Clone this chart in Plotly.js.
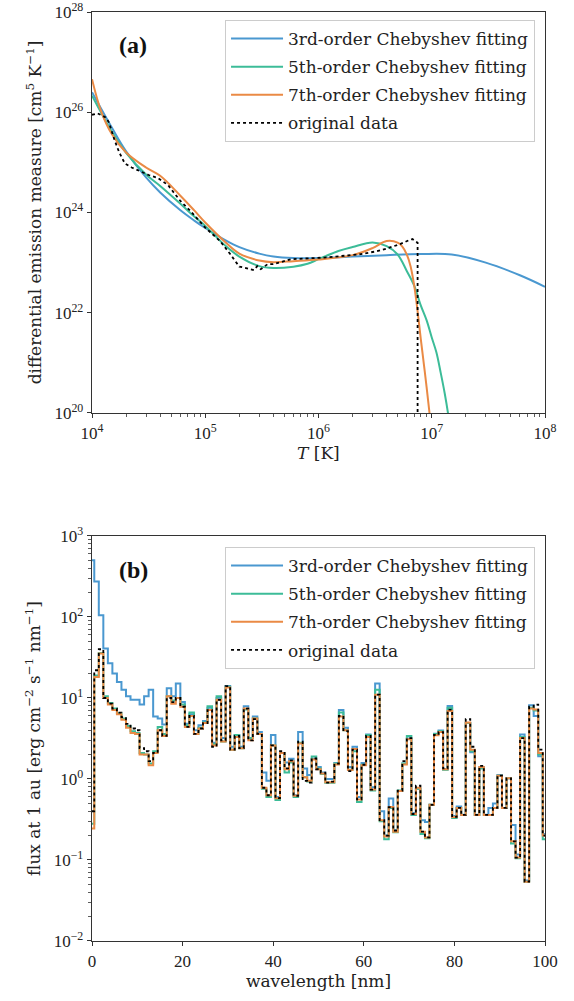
<!DOCTYPE html>
<html>
<head>
<meta charset="utf-8">
<script src="https://cdn.plot.ly/plotly-3.0.1.min.js"></script>
<style>html,body{margin:0;padding:0;background:#fff;}#chart{width:574px;height:1001px;}</style>
</head>
<body>
<div id="chart"></div>
<script>
// ---------- Panel (a): DEM vs temperature ----------
const demOrigT = [1.0e4, 1.12e4, 1.32e4, 1.41e4, 1.58e4, 1.74e4, 1.95e4, 2.24e4, 2.69e4, 3.16e4, 3.8e4, 4.68e4, 6.03e4, 7.41e4, 1.0e5, 1.35e5, 1.66e5, 2.0e5, 2.24e5, 2.69e5, 2.88e5, 3.09e5, 3.55e5, 3.98e5, 5.75e5, 1.12e6, 2.24e6, 3.16e6, 3.98e6, 5.25e6, 6.31e6, 6.76e6, 7.24e6, 7.5e6, 7.5e6];
const demOrig = [8.9e25, 9.5e25, 7.9e25, 6.3e25, 2.8e25, 1.58e25, 9.5e24, 7.9e24, 6.6e24, 5.6e24, 4.9e24, 3.55e24, 1.7e24, 1.07e24, 5.0e23, 2.7e23, 1.48e23, 8.3e22, 7.9e22, 7.1e22, 8.5e22, 7.4e22, 9.3e22, 9.3e22, 1.17e23, 1.26e23, 1.45e23, 1.66e23, 1.9e23, 2.34e23, 2.8e23, 2.95e23, 2.63e23, 2.5e23, 1e18];

const dem3T = [1e4, 1.5e4, 2e4, 3e4, 4e4, 6e4, 8e4, 1e5, 1.5e5, 2e5, 3e5, 4e5, 6e5, 1e6, 2e6, 4e6, 8e6, 1.5e7, 3e7, 6e7, 1e8];
const dem3 = [2.51e26, 4.9e25, 1.66e25, 5.0e24, 2.51e24, 1.12e24, 6.9e23, 4.9e23, 2.82e23, 2.04e23, 1.51e23, 1.32e23, 1.23e23, 1.23e23, 1.32e23, 1.41e23, 1.48e23, 1.45e23, 1.0e23, 5.6e22, 3.3e22];

const dem5T = [1e4, 1.5e4, 2e4, 3e4, 4e4, 6e4, 8e4, 1e5, 1.5e5, 2e5, 3e5, 4e5, 6e5, 8e5, 1e6, 1.5e6, 2e6, 3e6, 4e6, 5e6, 6e6, 7e6, 8e6, 9e6, 1e7, 1.1e7, 1.2e7, 1.3e7, 1.4e7, 1.5e7];
const dem5 = [2.14e26, 4.07e25, 1.55e25, 5.75e24, 3.39e24, 1.51e24, 8.3e23, 5.4e23, 2.19e23, 1.32e23, 8.5e22, 7.8e22, 8.3e22, 9.5e22, 1.17e23, 1.7e23, 2.04e23, 2.51e23, 2.14e23, 1.45e23, 6.9e22, 3.47e22, 1.4e22, 7.1e21, 3.2e21, 1.6e21, 6.3e20, 2.5e20, 9.0e19, 2.5e19];

const dem7T = [1e4, 1.2e4, 1.5e4, 2e4, 3e4, 4e4, 6e4, 8e4, 1e5, 1.5e5, 2e5, 3e5, 4e5, 6e5, 1e6, 2e6, 3e6, 4e6, 5e6, 5.5e6, 6e6, 6.5e6, 7e6, 7.5e6, 8e6, 8.5e6, 9e6, 1e7];
const dem7 = [4.57e26, 1.07e26, 3.63e25, 1.58e25, 7.9e24, 5.4e24, 2.19e24, 1.1e24, 6.3e23, 2.57e23, 1.51e23, 1.1e23, 1.02e23, 1.07e23, 1.15e23, 1.41e23, 1.95e23, 2.69e23, 2.51e23, 2.09e23, 1.48e23, 8.5e22, 3.47e22, 1.07e22, 3.0e21, 9.8e20, 3.3e20, 4e19];

// ---------- Panel (b): flux spectra, 1 nm bins ----------
const wavelength = Array.from({length: 101}, (_, i) => i);
const flux3 = [501, 275, 105, 40.7, 26.9, 20, 15.8, 12.6, 10.5, 9.5, 9.5, 8.3, 10.5, 12.6, 5.9, 5.6, 4.7, 13.2, 10.5, 15.1,
  8.9, 4.8, 6.3, 4.0, 4.6, 5.2, 7.6, 2.8, 10, 3.2, 14.1, 2.5, 3.5, 2.5, 7.9, 3.2, 5.9, 3.8, 1.2, 0.95,
  3.5, 0.6, 2.1, 1.6, 1.78, 0.63, 3.8, 1.35, 1.12, 1.78, 1.41, 1.2, 1.0, 1.0, 1.58, 7.1, 4.3, 1.41, 2.5, 0.6,
  1.58, 3.55, 0.79, 15.1, 0.40, 0.2, 0.575, 0.234, 0.71, 1.55, 3.16, 0.38, 0.76, 0.31, 0.295, 0.48, 3.63, 3.98, 1.32, 7.94,
  0.35, 0.457, 0.363, 4.9, 2.14, 0.363, 1.41, 0.363, 0.437, 0.5, 1.12, 0.437, 1.02, 0.27, 0.117, 3.55, 0.056, 8.13, 6.0, 1.91, 0.21];
const flux5 = [0.28, 19, 36, 10.5, 8.7, 7.4, 6.5, 5.6, 4.5, 3.9, 3.7, 2.1, 2.0, 1.55, 2.2, 4.4, 3.6, 10.5, 9.3, 10,
  8.3, 4.6, 6.6, 3.6, 4.3, 5.0, 7.9, 2.7, 10.5, 2.9, 13.8, 2.3, 3.5, 2.4, 7.2, 3.2, 5.6, 3.6, 0.76, 0.6,
  2.6, 0.55, 2.1, 1.2, 1.6, 0.6, 2.8, 1.05, 0.93, 1.9, 1.35, 1.15, 0.9, 0.9, 1.55, 6.6, 4.0, 1.3, 2.2, 0.52,
  1.5, 3.5, 0.72, 12.6, 0.3, 0.18, 0.44, 0.22, 0.72, 1.55, 3.4, 0.36, 0.76, 0.21, 0.185, 0.48, 3.6, 3.9, 1.3, 7.6,
  0.33, 0.44, 0.36, 4.9, 2.2, 0.36, 1.35, 0.36, 0.36, 0.44, 1.1, 0.44, 1.02, 0.16, 0.105, 3.3, 0.054, 7.6, 7.0, 2.0, 0.18];
const flux7 = [0.245, 18.2, 35.5, 10, 8.3, 7.1, 6.3, 5.4, 4.3, 3.7, 3.6, 2.0, 2.0, 1.48, 2.1, 4.0, 3.4, 10.5, 8.5, 10,
  7.8, 4.4, 6.0, 3.6, 4.2, 4.9, 7.1, 2.6, 9.5, 2.9, 13.5, 2.3, 3.3, 2.4, 7.4, 3.0, 5.6, 3.6, 0.78, 0.63,
  2.6, 0.58, 2.1, 1.32, 1.66, 0.62, 2.75, 1.05, 0.95, 1.74, 1.32, 1.17, 0.91, 0.91, 1.51, 5.9, 4.0, 1.29, 2.34, 0.56,
  1.48, 3.3, 0.74, 11.0, 0.31, 0.195, 0.45, 0.224, 0.71, 1.51, 3.1, 0.37, 0.78, 0.224, 0.19, 0.48, 3.47, 3.8, 1.32, 6.9,
  0.34, 0.44, 0.36, 5.0, 2.3, 0.36, 1.41, 0.36, 0.36, 0.44, 1.1, 0.44, 1.02, 0.17, 0.107, 3.2, 0.054, 7.4, 7.2, 2.1, 0.2];
const fluxOrig = [0.4, 22, 40, 10, 8.5, 7.4, 6.6, 5.8, 4.8, 4.2, 4.0, 2.4, 2.2, 1.66, 2.1, 4.0, 3.4, 10, 8.9, 10,
  7.8, 4.4, 6.0, 3.6, 4.2, 4.9, 7.1, 2.5, 9.5, 3.0, 14, 2.3, 3.4, 2.4, 7.4, 3.0, 5.5, 3.6, 0.78, 0.63,
  2.6, 0.58, 2.2, 1.35, 1.7, 0.62, 2.9, 0.95, 0.9, 1.8, 1.32, 1.2, 0.9, 0.93, 1.55, 6.0, 3.9, 1.25, 2.3, 0.56,
  1.5, 3.4, 0.74, 11, 0.31, 0.2, 0.45, 0.23, 0.72, 1.66, 3.2, 0.37, 0.83, 0.224, 0.19, 0.48, 3.5, 3.8, 1.35, 7.2,
  0.34, 0.44, 0.36, 5.5, 2.5, 0.36, 1.45, 0.36, 0.36, 0.44, 1.1, 0.44, 1.02, 0.17, 0.107, 3.2, 0.054, 7.8, 8.3, 2.3, 0.2];

// ---------- tick labels ----------
const demTickVals = [1e20, 1e22, 1e24, 1e26, 1e28];
const demTickText = ["10<sup>20</sup>", "10<sup>22</sup>", "10<sup>24</sup>", "10<sup>26</sup>", "10<sup>28</sup>"];
const tempTickVals = [1e4, 1e5, 1e6, 1e7, 1e8];
const tempTickText = ["10<sup>4</sup>", "10<sup>5</sup>", "10<sup>6</sup>", "10<sup>7</sup>", "10<sup>8</sup>"];
const fluxTickVals = [1e-2, 1e-1, 1, 10, 100, 1000];
const fluxTickText = ["10<sup>−2</sup>", "10<sup>−1</sup>", "10<sup>0</sup>", "10<sup>1</sup>", "10<sup>2</sup>", "10<sup>3</sup>"];
const waveTickVals = [0, 20, 40, 60, 80, 100];

const seriesNames = ["3rd-order Chebyshev fitting", "5th-order Chebyshev fitting", "7th-order Chebyshev fitting", "original data"];
const colors = ["#4a98d0", "#3cbc98", "#ea8a45", "#000000"];

const FONT = "Liberation Serif, Times New Roman, serif";
const FONT2 = "DejaVu Serif, serif";
const lw = 2;

function line(i, extra) {
  const l = {color: colors[i], width: lw};
  if (i === 3) { l.dash = "dot"; l.width = 1.8; }
  return Object.assign(l, extra || {});
}

const traces = [
  {x: dem3T, y: dem3, mode: "lines", name: seriesNames[0], line: line(0, {shape: "spline"}), xaxis: "x", yaxis: "y", legend: "legend", legendgroup: "a0"},
  {x: dem5T, y: dem5, mode: "lines", name: seriesNames[1], line: line(1, {shape: "spline"}), xaxis: "x", yaxis: "y", legend: "legend", legendgroup: "a1"},
  {x: dem7T, y: dem7, mode: "lines", name: seriesNames[2], line: line(2, {shape: "spline"}), xaxis: "x", yaxis: "y", legend: "legend", legendgroup: "a2"},
  {x: demOrigT, y: demOrig, mode: "lines", name: seriesNames[3], line: line(3), xaxis: "x", yaxis: "y", legend: "legend", legendgroup: "a3"},
  {x: wavelength, y: flux3, mode: "lines", name: seriesNames[0], line: line(0, {shape: "hvh"}), xaxis: "x2", yaxis: "y2", legend: "legend2", legendgroup: "b0"},
  {x: wavelength, y: flux5, mode: "lines", name: seriesNames[1], line: line(1, {shape: "hvh"}), xaxis: "x2", yaxis: "y2", legend: "legend2", legendgroup: "b1"},
  {x: wavelength, y: flux7, mode: "lines", name: seriesNames[2], line: line(2, {shape: "hvh"}), xaxis: "x2", yaxis: "y2", legend: "legend2", legendgroup: "b2"},
  {x: wavelength, y: fluxOrig, mode: "lines", name: seriesNames[3], line: line(3, {shape: "hvh"}), xaxis: "x2", yaxis: "y2", legend: "legend2", legendgroup: "b3"}
];

const axisCommon = {
  showline: true, linecolor: "#333", linewidth: 1.3, mirror: true,
  ticks: "outside", ticklen: 4, tickwidth: 1, tickcolor: "#333",
  showgrid: false, zeroline: false, ticklabeloverflow: "allow",
  tickfont: {family: FONT, size: 17, color: "#222"}
};
const minorLog = {ticks: "outside", ticklen: 2.5, tickwidth: 0.8, tickcolor: "#333", showgrid: false, dtick: "D1"};
const titleFont = {family: FONT2, size: 17, color: "#222"};
const legendCommon = {
  font: {family: FONT2, size: 17, color: "#222"},
  bgcolor: "rgba(255,255,255,0.85)", bordercolor: "#cccccc", borderwidth: 1,
  xanchor: "right", yanchor: "top", tracegroupgap: 3, itemwidth: 52
};

const layout = {
  width: 574, height: 1001,
  margin: {l: 92, r: 29, t: 12, b: 60},
  paper_bgcolor: "#fff", plot_bgcolor: "#fff",
  font: {family: FONT, color: "#222"},
  showlegend: true,
  xaxis: Object.assign({}, axisCommon, {
    type: "log", range: [4, 8], tickmode: "array", tickvals: tempTickVals, ticktext: tempTickText, anchor: "y",
    domain: [0, 1], minor: minorLog
  }),
  yaxis: Object.assign({}, axisCommon, {
    type: "log", range: [20, 28.0005], tickmode: "array", tickvals: demTickVals, ticktext: demTickText, anchor: "x",
    domain: [0.5684, 1],
    title: {text: "differential emission measure [cm<sup>5</sup> K<sup>−1</sup>]", font: titleFont, standoff: 8}
  }),
  xaxis2: Object.assign({}, axisCommon, {
    range: [0, 100], tickmode: "array", tickvals: waveTickVals, anchor: "y2", domain: [0, 1],
    title: {text: "wavelength [nm]", font: titleFont, standoff: 2}
  }),
  yaxis2: Object.assign({}, axisCommon, {
    type: "log", range: [-2, 3.0005], tickmode: "array", tickvals: fluxTickVals, ticktext: fluxTickText, anchor: "x2",
    domain: [0, 0.436], minor: minorLog,
    title: {text: "flux at 1 au [erg cm<sup>−2</sup> s<sup>−1</sup> nm<sup>−1</sup>]", font: titleFont, standoff: 8}
  }),
  legend: Object.assign({}, legendCommon, {x: 0.978, y: 0.9914}),
  legend2: Object.assign({}, legendCommon, {x: 0.978, y: 0.4241}),
  annotations: [
    {text: "<i>T</i> [K]", xref: "x domain", yref: "y domain", x: 0.5, y: -0.1, xanchor: "center", yanchor: "middle", showarrow: false, font: titleFont},
    {text: "<b>(a)</b>", xref: "x domain", yref: "y domain", x: 0.055, y: 0.918, xanchor: "left", yanchor: "middle", showarrow: false, font: {family: FONT, size: 24, color: "#111"}},
    {text: "<b>(b)</b>", xref: "x2 domain", yref: "y2 domain", x: 0.055, y: 0.916, xanchor: "left", yanchor: "middle", showarrow: false, font: {family: FONT, size: 24, color: "#111"}}
  ]
};

Plotly.newPlot("chart", traces, layout, {displayModeBar: false, staticPlot: true});
</script>
</body>
</html>
